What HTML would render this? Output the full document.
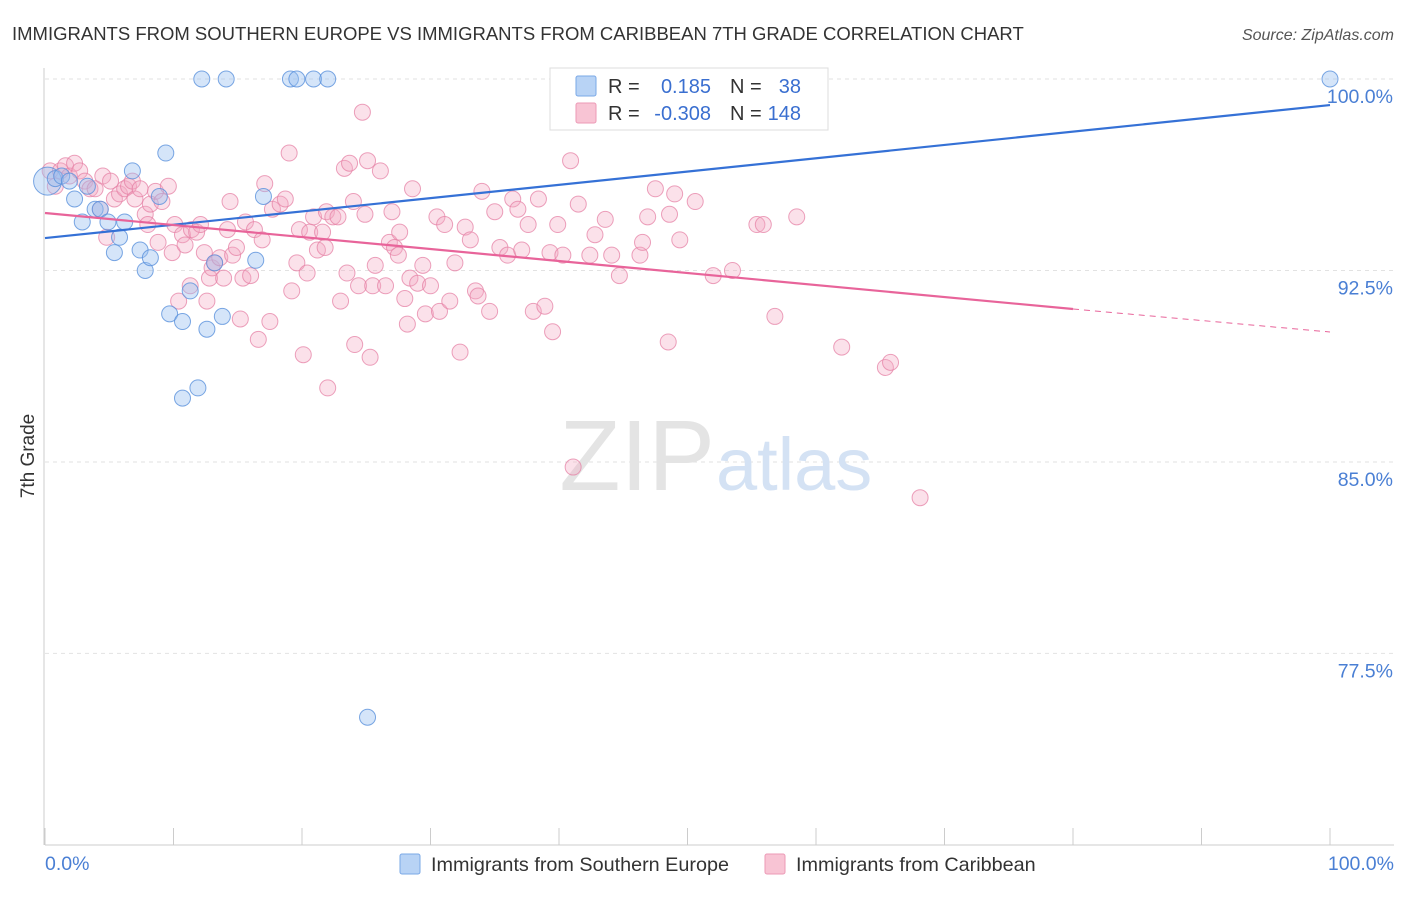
<!DOCTYPE html>
<html><head><meta charset="utf-8">
<style>
body{margin:0;background:#fff;font-family:"Liberation Sans",sans-serif;}
svg text{font-family:"Liberation Sans",sans-serif;}
</style></head>
<body>
<svg id="chart" width="1406" height="892" xmlns="http://www.w3.org/2000/svg">
<text x="12" y="40" font-size="18.5" fill="#333">IMMIGRANTS FROM SOUTHERN EUROPE VS IMMIGRANTS FROM CARIBBEAN 7TH GRADE CORRELATION CHART</text>
<text x="1394" y="40" font-size="16" fill="#555" font-style="italic" text-anchor="end">Source: ZipAtlas.com</text>
<g id="grid"></g>
<text x="715" y="490" font-size="100" fill="#e4e4e4" text-anchor="end" font-family="Liberation Serif">ZIP</text>
<text x="716" y="490" font-size="74" fill="#d4e2f4">atlas</text>
<g id="pts"></g>
<g id="lines"></g>
<text transform="translate(34,456) rotate(-90)" font-size="19" fill="#333" text-anchor="middle">7th Grade</text>
<text x="45" y="870" font-size="19.5" fill="#4a7fd4">0.0%</text>
<text x="1394" y="870" font-size="19.5" fill="#4a7fd4" text-anchor="end">100.0%</text>
<g>
<rect x="550" y="68" width="278" height="62" fill="#fff" stroke="#ddd"/>
<rect x="576" y="76" width="20" height="20" fill="#b8d3f5" stroke="#7aa8e6" rx="2"/>
<rect x="576" y="103" width="20" height="20" fill="#f8c4d4" stroke="#ec9ab6" rx="2"/>
<text x="608" y="93" font-size="20" fill="#333">R =</text>
<text x="711" y="93" font-size="20" fill="#3a6fd0" text-anchor="end">0.185</text>
<text x="730" y="93" font-size="20" fill="#333">N =</text>
<text x="801" y="93" font-size="20" fill="#3a6fd0" text-anchor="end">38</text>
<text x="608" y="120" font-size="20" fill="#333">R =</text>
<text x="711" y="120" font-size="20" fill="#3a6fd0" text-anchor="end">-0.308</text>
<text x="730" y="120" font-size="20" fill="#333">N =</text>
<text x="801" y="120" font-size="20" fill="#3a6fd0" text-anchor="end">148</text>
</g>
<g>
<rect x="400" y="854" width="20" height="20" fill="#b8d3f5" stroke="#7aa8e6" rx="2"/>
<text x="431" y="871" font-size="19.8" fill="#333">Immigrants from Southern Europe</text>
<rect x="765" y="854" width="20" height="20" fill="#f8c4d4" stroke="#ec9ab6" rx="2"/>
<text x="796" y="871" font-size="19.8" fill="#333">Immigrants from Caribbean</text>
</g>
</svg>
<script>
const yTicks=[100,92.5,85,77.5];
const yTickLabels=["100.0%","92.5%","85.0%","77.5%"];
const blueX=[0.2,0.8,1.3,1.9,2.3,2.9,3.3,3.9,4.3,4.9,5.4,5.8,6.2,6.8,7.4,7.8,8.2,8.9,9.4,9.7,10.7,10.7,11.3,11.9,12.2,12.6,13.2,13.8,14.1,16.4,17.0,19.1,19.6,20.9,22.0,25.1,100,44.7];
const blueY=[96.0,96.1,96.2,96.0,95.3,94.4,95.8,94.9,94.9,94.4,93.2,93.8,94.4,96.4,93.3,92.5,93.0,95.4,97.1,90.8,90.5,87.5,91.7,87.9,100,90.2,92.8,90.7,100,92.9,95.4,100,100,100,100,75.0,100,100];
const pinkX=[0.4,0.8,1.2,1.6,1.9,2.3,2.7,3.1,3.5,3.9,4.3,4.5,4.8,5.1,5.4,5.8,6.2,6.5,6.8,7.0,7.4,7.8,8.0,8.2,8.6,8.8,9.1,9.6,9.9,10.1,10.4,10.7,10.9,11.3,11.4,11.8,12.1,12.4,12.6,12.8,13.0,13.2,13.6,13.9,14.2,14.4,14.6,14.9,15.2,15.4,15.6,16.0,16.3,16.6,16.9,17.1,17.5,17.7,18.3,18.7,19.0,19.2,19.6,19.8,20.1,20.4,20.6,20.9,21.2,21.6,21.8,21.9,22.0,22.4,22.8,23.0,23.3,23.5,23.7,24.0,24.1,24.4,24.7,24.9,25.1,25.3,25.5,25.7,26.1,26.5,26.8,27.0,27.2,27.5,27.6,28.0,28.2,28.4,28.6,29.0,29.4,29.6,30.0,30.5,30.7,31.1,31.5,31.9,32.3,32.7,33.1,33.5,33.7,34.0,34.6,35.0,35.4,36.0,36.4,36.8,37.1,37.6,38.0,38.4,38.9,39.3,39.5,39.9,40.3,40.9,41.1,41.5,42.4,42.8,43.6,44.1,44.7,46.3,46.5,46.9,47.5,48.5,48.6,49.0,49.4,50.6,52.0,52.4,53.5,55.4,55.9,56.8,58.5,62.0,65.4,65.8,68.1];
const pinkY=[96.4,95.8,96.4,96.6,96.2,96.7,96.4,96.0,95.7,95.7,94.9,96.2,93.8,96.0,95.3,95.5,95.7,95.8,96.0,95.3,95.7,94.7,94.3,95.1,95.6,93.6,95.2,95.8,93.2,94.3,91.3,93.9,93.5,91.9,94.1,94.0,94.3,93.2,91.3,92.2,92.6,92.8,93.0,92.2,94.1,95.2,93.1,93.4,90.6,92.2,94.4,92.3,94.1,89.8,93.7,95.9,90.5,94.9,95.1,95.3,97.1,91.7,92.8,94.1,89.2,92.4,94.0,94.6,93.3,94.0,93.4,94.8,87.9,94.6,94.6,91.3,96.5,92.4,96.7,95.2,89.6,91.9,98.7,94.7,96.8,89.1,91.9,92.7,96.4,91.9,93.6,94.8,93.4,93.1,94.0,91.4,90.4,92.2,95.7,92.0,92.7,90.8,91.9,94.6,90.9,94.3,91.3,92.8,89.3,94.2,93.7,91.7,91.5,95.6,90.9,94.8,93.4,93.1,95.3,94.9,93.3,94.3,90.9,95.3,91.1,93.2,90.1,94.3,93.1,96.8,84.8,95.1,93.1,93.9,94.5,93.1,92.3,93.1,93.6,94.6,95.7,89.7,94.7,95.5,93.7,95.2,92.3,100,92.5,94.3,94.3,90.7,94.6,89.5,88.7,88.9,83.6];
const blueTrend=[93.77,98.98];
const pinkTrend=[94.75,90.99,90.09];
const pinkSolidEnd=80;

const NS="http://www.w3.org/2000/svg";
const X0=45,X1=1330,Y0=79,PPU=25.53;
const sx=v=>X0+(X1-X0)*v/100;
const sy=v=>Y0+(100-v)*PPU;
function mk(t,a,p){const e=document.createElementNS(NS,t);for(const k in a)e.setAttribute(k,a[k]);p.appendChild(e);return e;}
const grid=document.getElementById('grid');
yTicks.forEach((t,i)=>{
  const l=mk('line',{x1:45,x2:1394,y1:sy(t),y2:sy(t),stroke:'#e2e2e2','stroke-dasharray':'4,4'},grid);
  
  
  const tx=mk('text',{x:1393,y:sy(t)+24,'font-size':19.5,fill:'#4a7fd4','text-anchor':'end'},grid);
  tx.textContent=yTickLabels[i];
  
  
});
const ax=mk('line',{x1:45,x2:1394,y1:845,y2:845,stroke:'#ccc'},grid);


const ay=mk('line',{x1:44,x2:44,y1:68,y2:845,stroke:'#ccc'},grid);


for(let i=0;i<=10;i++){
  const tk=mk('line',{x1:sx(i*10),x2:sx(i*10),y1:828,y2:845,stroke:'#ccc'},grid);
  
  
}
const pts=document.getElementById('pts');
pinkX.forEach((x,i)=>{
  const c=mk('circle',{cx:sx(x),cy:sy(pinkY[i]),r:8,fill:'rgba(244,170,196,0.35)',stroke:'rgba(230,130,165,0.75)','stroke-width':1},pts);
  
  
});
blueX.forEach((x,i)=>{
  const c=mk('circle',{cx:sx(x),cy:sy(blueY[i]),r:i===0?14:8,fill:'rgba(150,190,240,0.4)',stroke:'rgba(90,145,220,0.8)','stroke-width':1},pts);
  
  
});
const lines=document.getElementById('lines');
const bl=mk('line',{x1:sx(0),y1:sy(blueTrend[0]),x2:sx(100),y2:sy(blueTrend[1]),stroke:'#3571d6','stroke-width':2.2},lines);


const pl=mk('line',{x1:sx(0),y1:sy(pinkTrend[0]),x2:sx(pinkSolidEnd),y2:sy(pinkTrend[1]),stroke:'#e8649a','stroke-width':2.2},lines);


const pd=mk('line',{x1:sx(pinkSolidEnd),y1:sy(pinkTrend[1]),x2:sx(100),y2:sy(pinkTrend[2]),stroke:'#e8649a','stroke-width':1,'stroke-dasharray':'6,5'},lines);


</script>
</body></html>
